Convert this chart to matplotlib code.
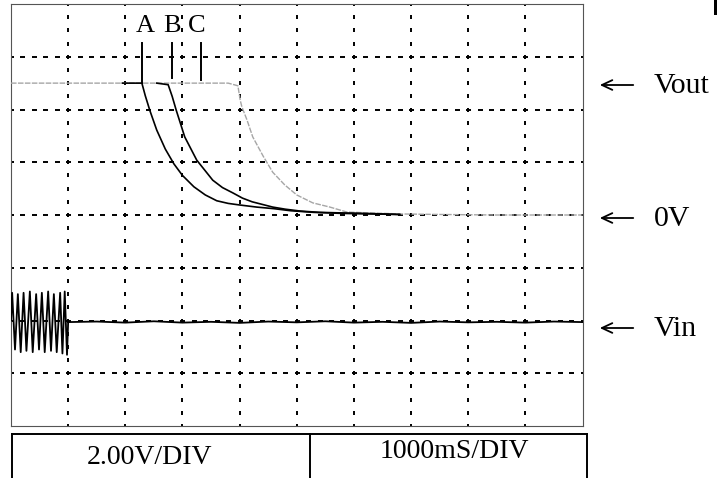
import numpy as np
import matplotlib
matplotlib.use("Agg")
import matplotlib.pyplot as plt
from matplotlib.lines import Line2D
from matplotlib.patches import Rectangle, FancyArrowPatch

# ---- trace data (time in s, 1 s/div; voltage in V, 2 V/div) ----
t_a = [1.95, 2.29, 2.35, 2.43, 2.55, 2.70, 2.85, 3.00, 3.20, 3.40, 3.60, 3.80,
       4.00, 4.30, 4.60, 4.90, 5.30, 5.80, 6.30, 6.80]
v_a = [5.00, 5.00, 4.52, 3.96, 3.22, 2.50, 1.94, 1.50, 1.07, 0.76, 0.54, 0.44,
       0.38, 0.30, 0.24, 0.16, 0.10, 0.06, 0.04, 0.02]

t_b = [2.55, 2.75, 2.82, 2.89, 3.04, 3.25, 3.53, 3.70, 3.88, 4.05, 4.22, 4.40,
       4.58, 4.80, 5.06, 5.40, 5.76, 6.20, 6.80]
v_b = [5.00, 4.94, 4.50, 3.98, 2.96, 2.08, 1.32, 1.04, 0.84, 0.64, 0.50, 0.40,
       0.30, 0.22, 0.15, 0.10, 0.08, 0.06, 0.02]

t_c = [0.00, 3.80, 3.97, 4.01, 4.04, 4.13, 4.23, 4.41, 4.58, 4.79, 5.00, 5.28,
       5.58, 5.88, 6.28, 6.80, 7.50, 8.50, 10.00]
v_c = [5.00, 5.00, 4.90, 4.36, 4.10, 3.60, 2.96, 2.24, 1.62, 1.14, 0.76, 0.46,
       0.30, 0.11, 0.08, 0.04, 0.02, 0.00, 0.00]

t_in = [0.00, 0.02, 0.07, 0.12, 0.17, 0.22, 0.27, 0.33, 0.38, 0.44, 0.49, 0.54,
        0.59, 0.65, 0.70, 0.75, 0.80, 0.86, 0.90, 0.94, 0.98, 1.00,
        1.50, 2.00, 2.50, 3.00, 3.50, 4.00, 4.50, 5.00, 5.50, 6.00, 6.50,
        7.00, 7.50, 8.00, 8.50, 9.00, 9.50, 10.00]
v_in = [-4.00, -2.95, -5.10, -3.00, -5.20, -2.95, -5.15, -2.90, -5.20, -3.00,
        -5.10, -2.95, -5.20, -2.90, -5.15, -3.00, -5.20, -2.95, -5.25, -2.90,
        -5.30, -4.06,
        -4.04, -4.08, -4.03, -4.08, -4.05, -4.09, -4.04, -4.07, -4.03, -4.08,
        -4.05, -4.09, -4.04, -4.07, -4.05, -4.08, -4.04, -4.06]

marker_t = [2.29, 2.82, 3.32]
marker_top = [6.52, 6.52, 6.52]
marker_bottom = [5.00, 5.18, 5.12]
marker_names = ["A", "B", "C"]
marker_label_t = [2.35, 2.82, 3.25]

trace_labels = ["Vout", "0V", "Vin"]
trace_label_py = [85, 218, 328]

volts_div = "2.00V/DIV"
time_div = "1000mS/DIV"

W, H = 717, 478
SERIF = "Liberation Serif"

fig = plt.figure(figsize=(W / 100, H / 100), dpi=100)
fig.patch.set_facecolor("white")


def fx(px):
    return px / W


def fy(py):
    return 1 - py / H


ax = fig.add_axes([fx(11), fy(426), 571.5 / W, 422 / H])
ax.set_xlim(0, 10)
ax.set_ylim(-8, 8)
ax.set_xticks([])
ax.set_yticks([])
for s in ax.spines.values():
    s.set_linewidth(0.8)
    s.set_color("#555555")

# graticule: dashes along horizontal lines, dots along vertical lines
gx = np.arange(0, 10.001, 0.2)
for y in range(-6, 7, 2):
    ax.plot(gx, np.full_like(gx, y), ls="none", marker="_", ms=3.6,
            mew=1.4, color="black", zorder=1)
gy = np.arange(-8, 8.001, 0.5)
for x in range(1, 10):
    ax.plot(np.full_like(gy, x), gy, ls="none", marker="|", ms=3.2,
            mew=1.4, color="black", zorder=1)

# traces
ax.plot(t_c, v_c, color="#a6a6a6", lw=1.0, ls=(0, (4, 1)), zorder=3)
ax.plot(t_in, v_in, color="black", lw=1.3, zorder=4)
ax.plot(t_b, v_b, color="black", lw=1.2, zorder=4)
ax.plot(t_a, v_a, color="black", lw=1.2, zorder=4)

# cursor markers A, B, C
for t, top, bot, name, lt in zip(marker_t, marker_top, marker_bottom,
                                 marker_names, marker_label_t):
    ax.plot([t, t], [bot, top], color="black", lw=1.4, zorder=5)
    ax.text(lt, 6.95, name, family=SERIF, fontsize=19, ha="center",
            va="baseline", color="black")

# trace labels with arrows to the right of the screen
for name, py in zip(trace_labels, trace_label_py):
    fig.add_artist(FancyArrowPatch(
        (fx(636), fy(py)), (fx(597), fy(py)), transform=fig.transFigure,
        arrowstyle="->,head_length=0.75,head_width=0.35", mutation_scale=10,
        lw=1.3, color="black"))
    fig.text(fx(654), fy(py + 1), name, family=SERIF, fontsize=21.5,
             ha="left", va="center", color="black")

# settings panel under the screen
panel = [((12, 434), (587, 434)), ((12, 434), (12, 480)),
         ((587, 434), (587, 480)), ((310, 434), (310, 480))]
for (x0, y0), (x1, y1) in panel:
    fig.add_artist(Line2D([fx(x0), fx(x1)], [fy(y0), fy(y1)],
                          transform=fig.transFigure, color="black", lw=1.4))
fig.text(fx(150), fy(457), volts_div, family=SERIF, fontsize=20,
         ha="center", va="center", color="black")
fig.text(fx(454), fy(452), time_div, family=SERIF, fontsize=20,
         ha="center", va="center", color="black")

fig.add_artist(Rectangle((fx(714), fy(15)), 3 / W, 15 / H,
                         transform=fig.transFigure, color="black", lw=0))

fig.savefig("out.png", dpi=100, facecolor="white")
